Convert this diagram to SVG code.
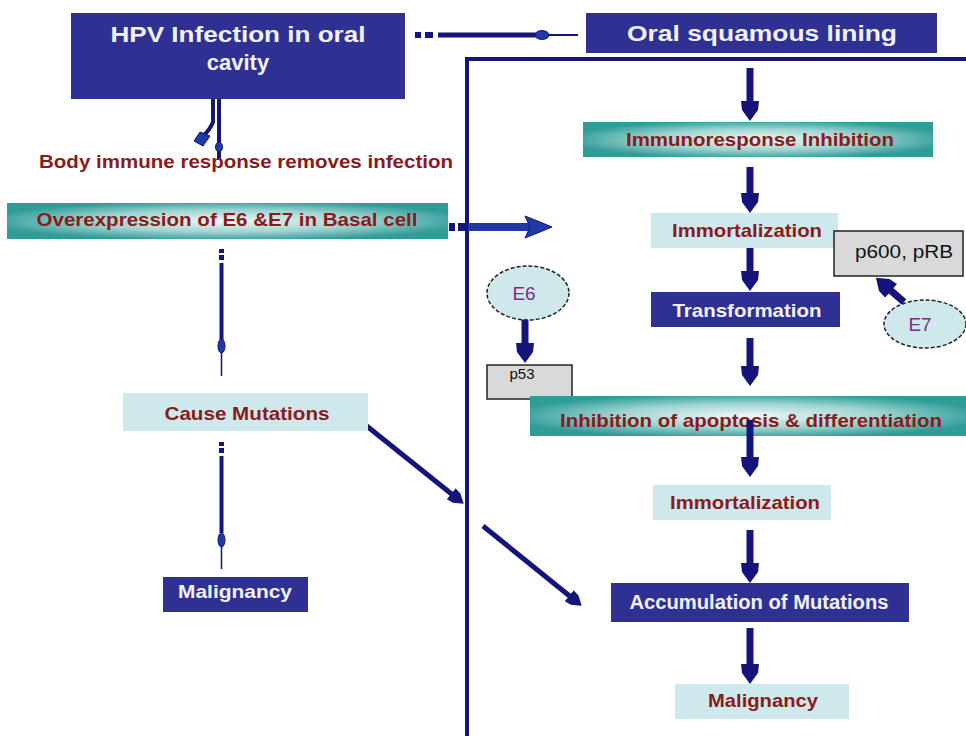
<svg xmlns="http://www.w3.org/2000/svg" width="966" height="736" viewBox="0 0 966 736">
<defs>
<style>
.navy{fill:#2e3192}
.light{fill:#cfe8ec}
.teal{fill:url(#tealg)}
.wt{font-family:"Liberation Sans",Arial,sans-serif;font-weight:bold;fill:#f2f2ff;text-anchor:middle}
.rt{font-family:"Liberation Sans",Arial,sans-serif;font-weight:bold;fill:#8b1a1a;text-anchor:middle}
.bt{font-family:"Liberation Sans",Arial,sans-serif;fill:#111;text-anchor:middle}
.pt{font-family:"Liberation Sans",Arial,sans-serif;fill:#7a2f8a;text-anchor:middle}
.ln{stroke:#14147a;fill:none}
.ah{fill:#14147a}
.ell{fill:#cfe8ec;stroke:#222;stroke-width:1.5;stroke-dasharray:4 2}
.gray{fill:#d9d9d9;stroke:#222;stroke-width:1.5}
</style>
<radialGradient id="tealg" cx="50%" cy="50%" r="55%">
<stop offset="0" stop-color="#eef8f8"/>
<stop offset="0.55" stop-color="#9fd4d2"/>
<stop offset="1" stop-color="#2f9c98"/>
</radialGradient>
<marker id="arr" markerUnits="userSpaceOnUse" markerWidth="22" markerHeight="20" refX="12" refY="9" orient="auto">
<path d="M0,0 L9,1 L20,9 L9,17 L0,18 Z" fill="#14147a"/>
</marker>
<marker id="arr2" markerUnits="userSpaceOnUse" markerWidth="18" markerHeight="16" refX="10" refY="7" orient="auto">
<path d="M0,0 L7,1 L16,7 L7,13 L0,14 Z" fill="#14147a"/>
</marker>
</defs>
<rect width="966" height="736" fill="#ffffff"/>

<g id="frame">
<path d="M968,59 H467 V738" class="ln" stroke-width="4"/>
</g>

<g id="connectors">
<!-- HPV -> Oral -->
<rect x="415" y="32" width="6" height="6" class="ah"/>
<rect x="425" y="32" width="8" height="6" class="ah"/>
<line x1="438" y1="35" x2="536" y2="35" class="ln" stroke-width="5"/>
<ellipse cx="542" cy="35" rx="7" ry="4.5" fill="#1f3aa8" stroke="#14147a" stroke-width="1"/>
<line x1="548" y1="35" x2="578" y2="35" class="ln" stroke-width="2"/>
<!-- HPV down arrows -->
<line x1="219" y1="99" x2="219" y2="160" class="ln" stroke-width="4"/>
<ellipse cx="219" cy="147" rx="3.5" ry="5" fill="#1f3aa8" stroke="#14147a" stroke-width="1"/>
<path d="M213,99 V122 Q210,130 202,137" class="ln" stroke-width="4"/>
<path d="M194,141 L200,132 L210,136 L203,146 Z" fill="#1f3aa8" stroke="#14147a" stroke-width="1"/>
<!-- Overexpression -> right -->
<rect x="449" y="223" width="6" height="8" class="ah"/>
<rect x="458" y="223" width="7" height="8" class="ah"/>
<line x1="468" y1="227" x2="530" y2="227" stroke="#1f3aa8" stroke-width="8"/>
<path d="M525,216 L540,222 L552,227 L540,232 L525,238 L530,227 Z" fill="#1f3aa8" stroke="#14147a" stroke-width="1"/>
<!-- left vertical 1 -->
<rect x="219" y="249" width="5" height="4" class="ah"/>
<rect x="219" y="255" width="5" height="5" class="ah"/>
<line x1="221.5" y1="263" x2="221.5" y2="340" class="ln" stroke-width="4"/>
<ellipse cx="221.5" cy="346" rx="3.5" ry="7" fill="#1f3aa8" stroke="#14147a" stroke-width="1"/>
<line x1="221.5" y1="352" x2="221.5" y2="376" class="ln" stroke-width="1.5"/>
<!-- left vertical 2 -->
<rect x="219" y="442" width="5" height="4" class="ah"/>
<rect x="219" y="448" width="5" height="5" class="ah"/>
<line x1="221.5" y1="456" x2="221.5" y2="533" class="ln" stroke-width="4"/>
<ellipse cx="221.5" cy="540" rx="3.5" ry="7" fill="#1f3aa8" stroke="#14147a" stroke-width="1"/>
<line x1="221.5" y1="546" x2="221.5" y2="569" class="ln" stroke-width="1.5"/>
<!-- diagonals -->
<line x1="363" y1="423" x2="459" y2="500" class="ln" stroke-width="5" marker-end="url(#arr2)"/>
<line x1="483" y1="526" x2="577" y2="602" class="ln" stroke-width="5" marker-end="url(#arr2)"/>
<!-- center column -->
<line x1="750" y1="68" x2="750" y2="113" class="ln" stroke-width="7" marker-end="url(#arr)"/>
<line x1="750" y1="167" x2="750" y2="205" class="ln" stroke-width="7" marker-end="url(#arr)"/>
<line x1="750" y1="248" x2="750" y2="283" class="ln" stroke-width="7" marker-end="url(#arr)"/>
<line x1="750" y1="338" x2="750" y2="378" class="ln" stroke-width="7" marker-end="url(#arr)"/>
<line x1="750" y1="420" x2="750" y2="469" class="ln" stroke-width="7" marker-end="url(#arr)"/>
<line x1="750" y1="530" x2="750" y2="575" class="ln" stroke-width="7" marker-end="url(#arr)"/>
<line x1="750" y1="628" x2="750" y2="676" class="ln" stroke-width="7" marker-end="url(#arr)"/>
<!-- E6 -> p53 -->
<line x1="525" y1="318" x2="525" y2="355" class="ln" stroke-width="7" marker-end="url(#arr)"/>
<!-- E7 -> p600 -->
<line x1="904" y1="302" x2="882" y2="283" class="ln" stroke-width="7" marker-end="url(#arr)"/>
</g>

<g id="n-hpv">
<rect x="71" y="13" width="334" height="86" class="navy"/>
<text x="238" y="42" class="wt" font-size="22" textLength="255" lengthAdjust="spacingAndGlyphs">HPV Infection in oral</text>
<text x="238" y="70" class="wt" font-size="22">cavity</text>
</g>
<g id="n-oral">
<rect x="586" y="13" width="351" height="40" class="navy"/>
<text x="762" y="41" class="wt" font-size="22" textLength="270" lengthAdjust="spacingAndGlyphs">Oral squamous lining</text>
</g>
<g id="n-body">
<text x="246" y="168" class="rt" font-size="19" textLength="414" lengthAdjust="spacingAndGlyphs">Body immune response removes infection</text>
</g>
<g id="n-overexp">
<rect x="7" y="203" width="441" height="36" class="teal"/>
<text x="227" y="226" class="rt" font-size="19" textLength="381" lengthAdjust="spacingAndGlyphs">Overexpression of E6 &amp;E7 in Basal cell</text>
</g>
<g id="n-cause">
<rect x="123" y="393" width="245" height="38" class="light"/>
<text x="247" y="420" class="rt" font-size="19" textLength="165" lengthAdjust="spacingAndGlyphs">Cause Mutations</text>
</g>
<g id="n-malig-left">
<rect x="163" y="577" width="145" height="35" class="navy"/>
<text x="235" y="598" class="wt" font-size="19" textLength="114" lengthAdjust="spacingAndGlyphs">Malignancy</text>
</g>
<g id="n-immuno">
<rect x="583" y="122" width="350" height="35" class="teal"/>
<text x="760" y="146" class="rt" font-size="19" textLength="268" lengthAdjust="spacingAndGlyphs">Immunoresponse Inhibition</text>
</g>
<g id="n-immort1">
<rect x="651" y="213" width="187" height="35" class="light"/>
<text x="747" y="237" class="rt" font-size="19" textLength="150" lengthAdjust="spacingAndGlyphs">Immortalization</text>
</g>
<g id="n-p600">
<rect x="834" y="231" width="129" height="45" class="gray"/>
<text x="904" y="258" class="bt" font-size="19" textLength="98" lengthAdjust="spacingAndGlyphs">p600, pRB</text>
</g>
<g id="n-transf">
<rect x="651" y="292" width="189" height="35" class="navy"/>
<text x="747" y="317" class="wt" font-size="19" textLength="149" lengthAdjust="spacingAndGlyphs">Transformation</text>
</g>
<g id="n-e7">
<ellipse cx="925" cy="324" rx="41" ry="24" class="ell"/>
<text x="920" y="331" class="pt" font-size="19">E7</text>
</g>
<g id="n-e6">
<ellipse cx="528" cy="293" rx="41" ry="27" class="ell"/>
<text x="524" y="300" class="pt" font-size="19">E6</text>
</g>
<g id="n-p53">
<rect x="487" y="365" width="85" height="34" class="gray"/>
<text x="522" y="379" class="bt" font-size="15">p53</text>
</g>
<g id="n-inhib">
<rect x="530" y="396" width="436" height="40" class="teal"/>
<text x="751" y="427" class="rt" font-size="19" textLength="382" lengthAdjust="spacingAndGlyphs">Inhibition of apoptosis &amp; differentiation</text>
</g>
<g id="n-immort2">
<rect x="653" y="485" width="178" height="35" class="light"/>
<text x="745" y="509" class="rt" font-size="19" textLength="150" lengthAdjust="spacingAndGlyphs">Immortalization</text>
</g>
<g id="n-accum">
<rect x="611" y="583" width="298" height="39" class="navy"/>
<text x="759" y="609" class="wt" font-size="20" textLength="259" lengthAdjust="spacingAndGlyphs">Accumulation of Mutations</text>
</g>
<g id="n-malig-right">
<rect x="675" y="684" width="174" height="35" class="light"/>
<text x="763" y="707" class="rt" font-size="19" textLength="110" lengthAdjust="spacingAndGlyphs">Malignancy</text>
</g>
<g id="overlay">
<line x1="750" y1="420" x2="750" y2="436" class="ln" stroke-width="7"/>
</g>
</svg>
